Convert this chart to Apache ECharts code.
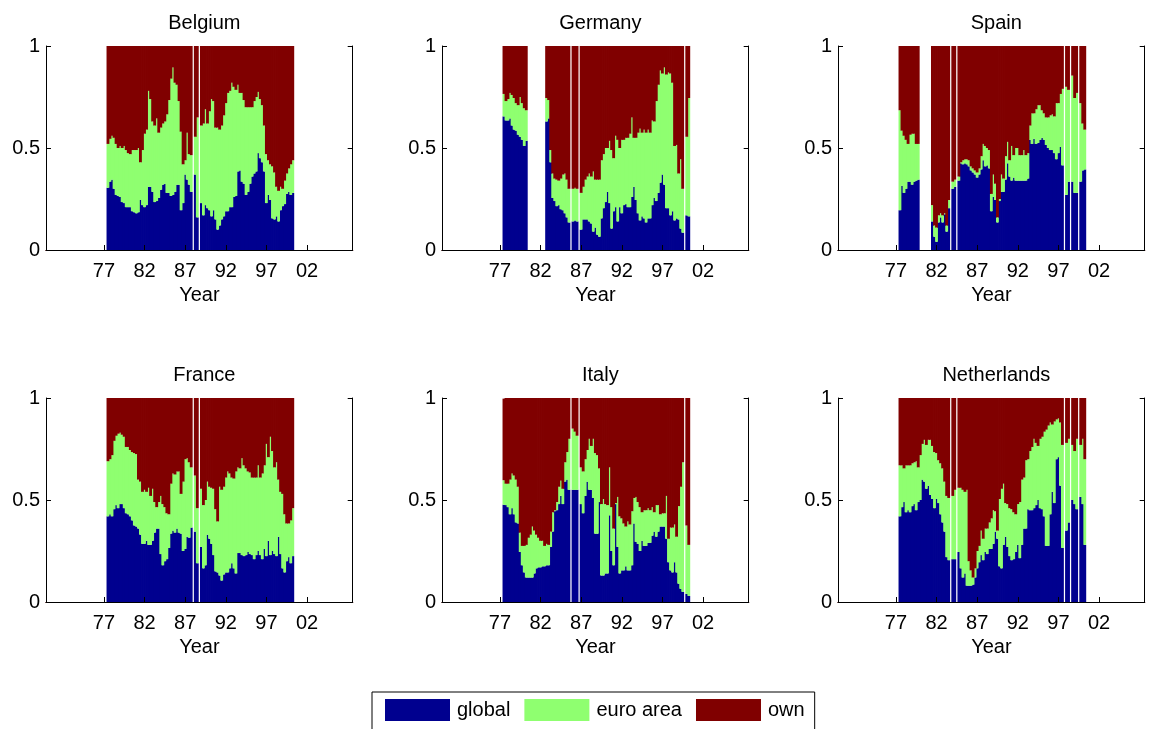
<!DOCTYPE html>
<html>
<head>
<meta charset="utf-8">
<script src="https://cdn.jsdelivr.net/npm/echarts@6/dist/echarts.min.js"></script>
<style>
  html, body { margin: 0; background: #fff; }
  #chart { width: 1149px; height: 729px; }
</style>
</head>
<body>
<div id="chart"></div>
<script>
// quarterly shares, first value = 1977Q3, null = missing quarter
const tickYears = [1977, 1982, 1987, 1992, 1997, 2002];
const firstYear = 1970, nQuarters = 151, dataStart = 30;

const beGlobal = [
.305,.335,.345,.30,.27,.265,.26,.235,.23,.21,
.21,.21,.19,.185,.18,.185,.245,.22,.21,.22,
.31,.31,.285,.235,.24,.255,.295,.32,.325,.28,
.28,.265,.27,.285,.32,.32,.195,.23,.37,.345,
.32,.285,null,.37,.16,null,.23,.17,.22,.205,
.195,.165,.195,.15,.10,.12,.15,.165,.19,.19,
.21,.21,.26,.265,.385,.39,.335,.325,.27,.285,
.325,.36,.375,.385,.475,.45,.43,.385,.23,.27,
.245,.155,.15,.165,.14,.195,.215,.225,.275,.285,
.27,.28];
const beEuro = [
.215,.21,.215,.25,.25,.235,.25,.265,.28,.28,
.265,.26,.30,.305,.31,.315,.185,.27,.36,.37,
.47,.43,.345,.375,.405,.32,.305,.30,.305,.385,
.455,.575,.625,.535,.49,.41,.385,.19,.07,.23,
.15,.18,null,.185,.49,null,.38,.45,.47,.415,
.485,.575,.535,.45,.50,.47,.46,.495,.53,.58,
.57,.61,.54,.52,.425,.38,.435,.41,.43,.415,
.375,.34,.355,.365,.30,.29,.28,.225,.24,.17,
.175,.255,.23,.145,.15,.115,.085,.115,.10,.115,
.15,.16];
const beOwn = [
.48,.455,.44,.455,.48,.50,.49,.50,.49,.51,
.525,.53,.51,.51,.51,.50,.57,.51,.43,.41,
.22,.26,.37,.39,.355,.425,.40,.38,.37,.335,
.265,.16,.105,.18,.19,.27,.42,.58,.56,.425,
.53,.535,null,.445,.35,null,.39,.38,.31,.38,
.32,.26,.27,.40,.40,.41,.39,.34,.28,.23,
.22,.18,.20,.215,.19,.23,.23,.265,.30,.30,
.30,.30,.27,.25,.225,.26,.29,.39,.53,.56,
.58,.59,.62,.69,.71,.69,.70,.66,.625,.60,
.58,.56];

const deGlobal = [
.655,.635,.635,.645,.61,.59,.585,.565,.555,.54,
.51,.535,null,null,null,null,null,null,null,null,
null,.63,.645,.43,.255,.24,.215,.22,.20,.195,
.18,.16,.135,null,.14,.145,.14,null,.10,.15,
.15,.15,.14,.13,.09,.11,.075,.065,.155,.205,
.235,.285,.23,.105,.19,.21,.14,.21,.18,.22,
.225,.21,.21,.26,.31,.245,.18,.145,.165,.155,
.135,.155,.155,.22,.255,.24,.28,.33,.37,.32,
.205,.205,.17,.19,.145,.155,.15,.105,.085,null,
.17,.165];
const deEuro = [
.11,.095,.105,.125,.15,.155,.135,.145,.195,.18,
.185,.15,null,null,null,null,null,null,null,null,
null,.115,.09,.06,.12,.11,.13,.12,.15,.175,
.195,.185,.165,null,.16,.16,.16,null,.18,.16,
.195,.21,.235,.23,.295,.235,.27,.28,.285,.265,
.265,.215,.305,.385,.26,.35,.40,.29,.36,.32,
.325,.34,.36,.39,.24,.305,.395,.45,.41,.435,
.44,.435,.42,.415,.375,.49,.53,.55,.495,.575,
.655,.665,.695,.63,.365,.36,.225,.34,.215,null,
.385,.58];
const deOwn = [
.235,.27,.26,.23,.24,.255,.28,.29,.25,.28,
.305,.315,null,null,null,null,null,null,null,null,
null,.255,.265,.51,.625,.65,.655,.66,.65,.63,
.625,.655,.70,null,.70,.695,.70,null,.72,.69,
.655,.64,.625,.64,.615,.655,.655,.655,.56,.53,
.50,.50,.465,.51,.55,.44,.46,.50,.46,.46,
.45,.45,.43,.35,.45,.45,.425,.405,.425,.41,
.425,.41,.425,.365,.37,.27,.19,.12,.135,.105,
.14,.13,.135,.18,.49,.485,.625,.555,.70,null,
.445,.255];

const esGlobal = [
.195,.315,.28,.30,.335,.335,.32,.335,.34,.345,
null,null,null,null,null,null,.14,.065,.04,.135,
.16,.135,.175,.09,.205,null,.30,.31,null,.34,
.425,.42,.425,.42,.41,.39,.38,.37,.355,.37,
.395,.44,.41,.415,.40,.19,.26,.245,.135,.24,
.285,.285,.345,.425,.36,.34,.355,.34,.34,.34,
.34,.34,.34,.35,.54,.52,.545,.52,.525,.54,
.55,.54,.515,.50,.49,.49,.475,.445,.475,.505,
.415,null,.27,.335,null,.335,.28,.28,null,.335,
.39,.395];
const esEuro = [
.49,.27,.28,.24,.185,.23,.25,.235,.18,.175,
null,null,null,null,null,null,.08,.055,.07,.035,
.02,.035,.005,.03,.04,null,.035,.035,null,.02,
.005,.02,.02,.025,.03,.02,.02,.02,.025,.03,
.065,.08,.10,.085,.09,.085,.11,.08,.025,.01,
.085,.065,.115,.105,.08,.17,.11,.16,.16,.125,
.125,.15,.125,.125,.07,.15,.125,.17,.185,.17,
.135,.13,.135,.15,.17,.175,.18,.275,.245,.26,
.375,null,.53,.45,null,.52,.465,.49,null,.385,
.23,.195];
const esOwn = [
.315,.415,.44,.46,.48,.435,.43,.43,.48,.48,
null,null,null,null,null,null,.78,.88,.89,.83,
.82,.83,.82,.88,.755,null,.665,.655,null,.64,
.57,.56,.555,.555,.56,.59,.60,.61,.62,.60,
.54,.48,.49,.50,.51,.725,.63,.675,.84,.75,
.63,.65,.54,.47,.56,.49,.535,.50,.50,.535,
.535,.51,.535,.525,.39,.33,.33,.31,.29,.29,
.315,.33,.35,.35,.34,.335,.345,.28,.28,.235,
.21,null,.20,.215,null,.145,.255,.23,null,.28,
.38,.41];

const frGlobal = [
.42,.43,.42,.455,.475,.46,.48,.48,.46,.435,
.43,.42,.40,.375,.37,.36,.33,.285,.285,.30,
.28,.28,.30,.34,.36,.36,.235,.18,.20,.21,
.265,.335,.35,.34,.36,.34,.335,.25,.26,.32,
.315,.365,null,.345,.19,null,.27,.165,.18,.33,
.31,.285,.23,.15,.145,.13,.105,.135,.145,.145,
.165,.19,.165,.14,.24,.24,.23,.225,.23,.245,
.235,.23,.21,.23,.25,.23,.21,.26,.225,.30,
.23,.25,.235,.225,.32,.235,.165,.145,.20,.22,
.19,.225];
const frEuro = [
.27,.27,.30,.335,.34,.365,.35,.34,.35,.325,
.33,.325,.335,.355,.355,.24,.26,.255,.265,.24,
.28,.24,.255,.15,.105,.13,.285,.30,.265,.225,
.165,.245,.28,.285,.28,.30,.195,.34,.44,.385,
.37,.295,null,.275,.27,null,.285,.31,.32,.26,
.255,.275,.325,.305,.25,.435,.445,.43,.465,.495,
.465,.42,.44,.50,.42,.415,.475,.445,.425,.395,
.40,.38,.40,.38,.42,.38,.42,.41,.55,.41,
.58,.49,.425,.46,.28,.305,.365,.285,.185,.165,
.21,.235];
const frOwn = [
.315,.30,.285,.21,.185,.175,.17,.18,.19,.24,
.24,.255,.265,.27,.275,.40,.41,.46,.45,.46,
.44,.48,.445,.51,.535,.51,.48,.52,.535,.565,
.57,.42,.37,.375,.36,.36,.47,.41,.30,.295,
.315,.34,null,.38,.54,null,.445,.525,.50,.41,
.435,.44,.445,.545,.605,.435,.45,.435,.39,.36,
.37,.39,.395,.36,.34,.345,.295,.33,.345,.36,
.365,.39,.39,.39,.33,.39,.37,.33,.225,.29,
.19,.26,.34,.315,.40,.46,.47,.57,.615,.615,
.60,.54];

const itGlobal = [
.477,.475,.465,.43,.46,.43,.39,.385,.245,.18,
.145,.12,.12,.12,.12,.14,.165,.17,.17,.175,
.175,.18,.18,.27,.345,.445,.45,.48,.52,.48,
.59,.60,.55,null,.55,.55,.55,null,.48,.435,
.52,.59,.55,.55,.51,.335,.335,.49,.13,.13,
.14,.14,.425,.25,.18,.48,.27,.14,.155,.155,
.175,.155,.155,.18,.385,.295,.285,.25,.30,.275,
.275,.29,.29,.325,.345,.32,.345,.37,.37,.37,
.31,.195,.155,.145,.195,.145,.09,.065,.05,null,
.04,.03];
const itEuro = [
.12,.105,.115,.17,.17,.19,.21,.18,.095,.095,
.13,.16,.195,.21,.25,.21,.165,.145,.13,.125,
.10,.105,.10,.075,.095,.005,.04,.085,.075,.075,
.095,.135,.25,null,.30,.285,.265,null,.18,.205,
.18,.155,.25,.215,.29,.395,.385,.165,.35,.375,
.34,.335,.235,.215,.18,.005,.245,.28,.255,.23,
.195,.24,.225,.265,.125,.22,.205,.215,.14,.175,
.175,.17,.16,.14,.095,.155,.13,.06,.065,.065,
.21,.115,.21,.22,.185,.175,.38,.50,.635,null,
.335,.25];
const itOwn = [
.40,.42,.42,.40,.37,.38,.40,.435,.66,.725,
.725,.72,.685,.67,.63,.65,.67,.685,.70,.70,
.725,.715,.72,.655,.56,.55,.51,.435,.405,.445,
.315,.265,.20,null,.15,.165,.185,null,.34,.36,
.30,.255,.20,.235,.20,.27,.28,.345,.52,.495,
.52,.525,.34,.535,.64,.52,.485,.58,.59,.615,
.63,.605,.62,.555,.49,.485,.51,.535,.56,.55,
.55,.54,.55,.535,.56,.525,.525,.57,.565,.565,
.48,.69,.635,.635,.62,.68,.53,.435,.315,null,
.625,.72];

const nlGlobal = [
.42,.465,.49,.44,.45,.44,.47,.48,.45,.49,
.50,.60,.59,.555,.57,.525,.505,.46,.505,.485,
.43,.39,.345,.22,.205,null,.21,.21,null,.245,
.165,.12,.14,.08,.08,.08,.085,.12,.165,.195,
.23,.205,.245,.235,.26,.26,.285,.345,.31,.175,
.165,.28,.32,.27,.225,.205,.21,.245,.28,.215,
.28,.36,.36,.455,.45,.45,.46,.475,.50,.46,
.455,.42,.275,.275,.43,.54,.485,.70,.71,.57,
.265,null,.35,.39,null,.50,.48,.455,null,.515,
.48,.28];
const nlEuro = [
.25,.205,.165,.23,.22,.23,.21,.205,.24,.17,
.22,.175,.205,.215,.225,.27,.26,.275,.225,.21,
.25,.265,.245,.30,.305,null,.31,.34,null,.315,
.395,.43,.40,.47,.12,.075,.035,.045,.085,.08,
.12,.105,.115,.125,.13,.15,.165,.10,.04,.33,
.39,.30,.165,.21,.235,.25,.23,.185,.20,.275,
.32,.25,.335,.245,.29,.31,.34,.305,.265,.34,
.355,.415,.57,.59,.45,.33,.40,.195,.19,.31,
.505,null,.43,.41,null,.27,.26,.345,null,.255,
.32,.42];
const nlOwn = [
.33,.33,.345,.33,.33,.33,.32,.315,.31,.34,
.28,.225,.205,.23,.205,.205,.235,.265,.27,.305,
.32,.345,.41,.48,.49,null,.48,.45,null,.44,
.44,.45,.46,.45,.80,.845,.88,.835,.75,.725,
.65,.69,.64,.64,.61,.59,.55,.555,.65,.495,
.445,.42,.515,.52,.54,.545,.56,.57,.52,.51,
.40,.39,.305,.30,.26,.24,.20,.22,.235,.20,
.19,.165,.155,.135,.12,.13,.115,.105,.10,.12,
.23,null,.22,.20,null,.23,.26,.20,null,.23,
.20,.30];

const panels = [
  { name: 'Belgium', data: [beGlobal, beEuro, beOwn] },
  { name: 'Germany', data: [deGlobal, deEuro, deOwn] },
  { name: 'Spain', data: [esGlobal, esEuro, esOwn] },
  { name: 'France', data: [frGlobal, frEuro, frOwn] },
  { name: 'Italy', data: [itGlobal, itEuro, itOwn] },
  { name: 'Netherlands', data: [nlGlobal, nlEuro, nlOwn] }
];
const seriesNames = ['global', 'euro area', 'own'];
const seriesColors = ['#00008f', '#8fff70', '#800000'];

const FONT = '"Liberation Sans", Arial, Helvetica, sans-serif';
const gridLeft = [46, 442, 838];
const gridTop = [46, 398];
const gridW = 306.7, gridH = 204;

// quarter categories on the x axis
const quarters = [];
for (let i = 0; i < nQuarters; i++) {
  quarters.push((firstYear + Math.floor(i / 4)) + 'Q' + (i % 4 + 1));
}
const tickCats = tickYears.map(y => y + 'Q1');
const isTick = (idx, val) => tickCats.includes(quarters[idx]);

const spread = arr => quarters.map((q, k) => {
  const v = arr[k - dataStart];
  return (v === undefined || v === null) ? '-' : v;
});

const chart = echarts.init(document.getElementById('chart'));
const grid = [], xAxis = [], yAxis = [], title = [], series = [];

panels.forEach((p, n) => {
  const left = gridLeft[n % 3];
  const top = gridTop[Math.floor(n / 3)];
  grid.push({ left: left, top: top, width: gridW, height: gridH, containLabel: false, outerBoundsMode: 'none' });
  title.push({
    text: p.name, left: left + gridW / 2, top: top - 38, textAlign: 'center',
    textStyle: { fontFamily: FONT, fontSize: 20, fontWeight: 'normal', color: '#000' }
  });
  xAxis.push({
    gridIndex: n, type: 'category', data: quarters, position: 'bottom', z: 5,
    axisLine: { show: true, lineStyle: { color: '#800000', width: 1.2 } },
    axisTick: { show: true, inside: true, length: 5, alignWithLabel: true, interval: isTick, lineStyle: { color: '#000' } },
    axisLabel: { interval: isTick, formatter: v => v.slice(2, 4), margin: 11, fontFamily: FONT, fontSize: 20, color: '#000' },
    splitLine: { show: false },
    name: 'Year', nameLocation: 'middle', nameGap: 35,
    nameTextStyle: { fontFamily: FONT, fontSize: 20, color: '#000' }
  });
  xAxis.push({
    gridIndex: n, type: 'category', data: quarters, position: 'top', z: 5,
    axisLine: { show: true, lineStyle: { color: '#000', width: 1 } },
    axisTick: { show: false }, axisLabel: { show: false }, splitLine: { show: false }
  });
  yAxis.push({
    gridIndex: n, type: 'value', min: 0, max: 1, interval: 0.5, position: 'left', z: 5,
    axisLine: { show: true, lineStyle: { color: '#000', width: 1 } },
    axisTick: { show: true, inside: true, length: 5, lineStyle: { color: '#000' } },
    axisLabel: { margin: 6, fontFamily: FONT, fontSize: 20, color: '#000' },
    splitLine: { show: false }
  });
  yAxis.push({
    gridIndex: n, type: 'value', min: 0, max: 1, interval: 0.5, position: 'right', z: 5,
    axisLine: { show: true, lineStyle: { color: '#000', width: 1 } },
    axisTick: { show: true, inside: true, length: 5, lineStyle: { color: '#000' } },
    axisLabel: { show: false }, splitLine: { show: false }
  });
  p.data.forEach((arr, s) => {
    series.push({
      name: seriesNames[s], type: 'bar', stack: 'p' + n,
      xAxisIndex: 2 * n, yAxisIndex: 2 * n,
      // a negative gap lets neighbouring quarters overlap slightly (no seams)
      barCategoryGap: '-40%',
      data: spread(arr),
      itemStyle: { color: seriesColors[s], borderWidth: 0 },
      emphasis: { disabled: true },
      silent: true
    });
  });
});

chart.setOption({
  animation: false,
  backgroundColor: '#fff',
  title: title,
  grid: grid,
  xAxis: xAxis,
  yAxis: yAxis,
  legend: {
    data: seriesNames, left: 372, top: 692, orient: 'horizontal',
    icon: 'rect', itemWidth: 65, itemHeight: 22, itemGap: 14,
    padding: [7, 10, 10, 13], borderColor: '#000', borderWidth: 1,
    selectedMode: false,
    itemStyle: { borderWidth: 0 },
    textStyle: { fontFamily: FONT, fontSize: 20, color: '#000', padding: [0, 0, 0, 2] }
  },
  series: series
});
</script>
</body>
</html>
